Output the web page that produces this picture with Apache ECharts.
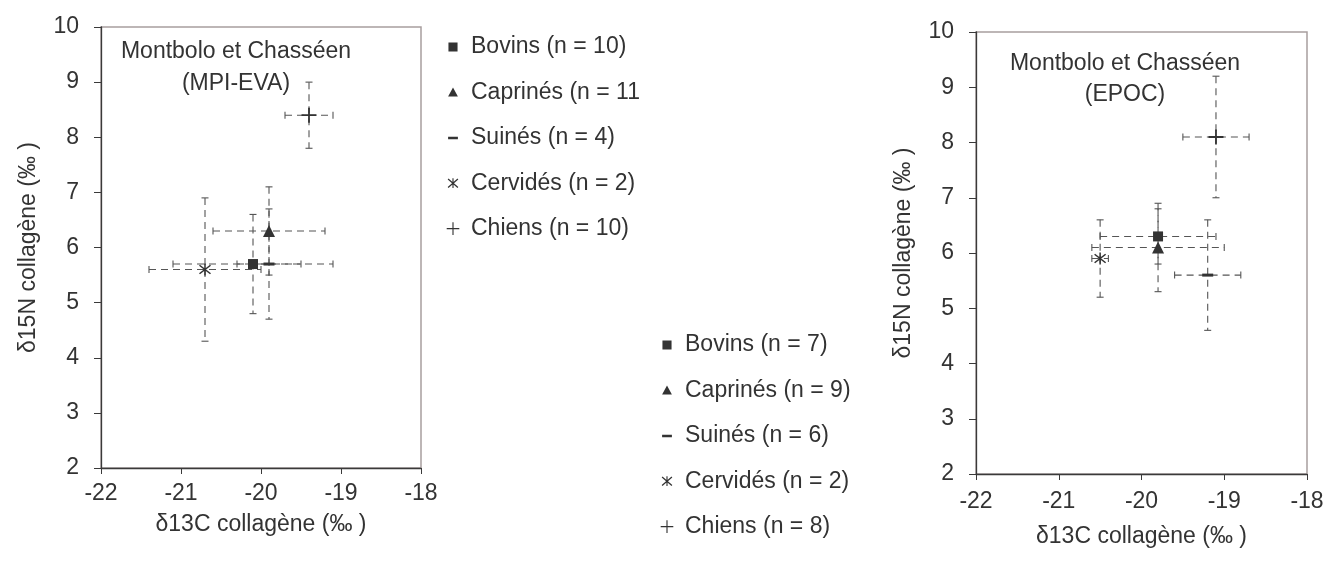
<!DOCTYPE html>
<html>
<head>
<meta charset="utf-8">
<script src="https://cdn.jsdelivr.net/npm/echarts@6/dist/echarts.min.js"></script>
<style>
html,body{margin:0;padding:0;background:#fff;}
#chart{width:1327px;height:568px;}
</style>
</head>
<body>
<div id="chart"></div>
<script>
// ---------- data ----------
const species = ['Bovins', 'Caprinés', 'Suinés', 'Cervidés', 'Chiens'];
const leftLabels = ['Bovins (n = 10)', 'Caprinés (n = 11', 'Suinés (n = 4)', 'Cervidés (n = 2)', 'Chiens (n = 10)'];
const rightLabels = ['Bovins (n = 7)', 'Caprinés (n = 9)', 'Suinés (n = 6)', 'Cervidés (n = 2)', 'Chiens (n = 8)'];

// Left panel: Montbolo et Chasséen (MPI-EVA)
const leftD13C = [-20.1, -19.9, -19.9, -20.7, -19.4];
const leftD15N = [5.7, 6.3, 5.7, 5.6, 8.4];
const leftSdC = [1.0, 0.7, 0.4, 0.7, 0.3];
const leftSdN = [0.9, 0.8, 1.0, 1.3, 0.6];

// Right panel: Montbolo et Chasséen (EPOC)
const rightD13C = [-19.8, -19.8, -19.2, -20.5, -19.1];
const rightD15N = [6.3, 6.1, 5.6, 5.9, 8.1];
const rightSdC = [0.7, 0.8, 0.4, 0.1, 0.4];
const rightSdN = [0.5, 0.8, 1.0, 0.7, 1.1];

const xTicks = [-22, -21, -20, -19, -18];
const yTicks = [2, 3, 4, 5, 6, 7, 8, 9, 10];

const leftTitle = 'Montbolo et Chasséen\n(MPI-EVA)';
const rightTitle = 'Montbolo et Chasséen\n(EPOC)';
const xName = 'δ13C collagène (‰ )';
const yName = 'δ15N collagène (‰ )';

// ---------- styling helpers ----------
const FONT = "'Liberation Sans', Arial, Helvetica, sans-serif";
const TXT = '#333333';
const MARK = '#333333';

function bar(x1, y1, x2, y2, t) {
  const dx = x2 - x1, dy = y2 - y1, L = Math.sqrt(dx * dx + dy * dy);
  const nx = -dy / L * t / 2, ny = dx / L * t / 2;
  const p = [[x1 + nx, y1 + ny], [x2 + nx, y2 + ny], [x2 - nx, y2 - ny], [x1 - nx, y1 - ny]];
  return 'M' + p.map(q => q[0].toFixed(2) + ' ' + q[1].toFixed(2)).join('L') + 'Z';
}
const FRAME = 'M0 0L0.01 0ZM20 20L20.01 20Z';

// chart symbols
const symPlus = 'path://' + bar(0, 10, 20, 10, 2.4) + bar(10, 0, 10, 20, 2.4);
const symAst = 'path://' + bar(10, 0, 10, 20, 2.2) + bar(2, 3, 18, 17, 2.2) + bar(18, 3, 2, 17, 2.2);
const symDash = 'path://M0 0H20V5H0Z';
const chartSymbols = ['rect', 'triangle', symDash, symAst, symPlus];
const chartSizes = [10, 12, [11, 3], 12, 15];

// legend icons (20x20 frame, drawn inside)
const legIcons = [
  'path://' + FRAME + 'M3.5 3.5H16.5V16.5H3.5Z',
  'path://' + FRAME + 'M10 3L17 16H3Z',
  'path://' + FRAME + 'M3 8.5H17V12H3Z',
  'path://' + FRAME + bar(3, 4, 17, 16, 1.8) + bar(17, 4, 3, 16, 1.8) + bar(10, 3, 10, 17, 1.6),
  'path://' + FRAME + bar(1, 10, 19, 10, 1.6) + bar(10, 1, 10, 19, 1.6)
];

function errRender(params, api) {
  const x = api.value(0), y = api.value(1), ex = api.value(2), ey = api.value(3);
  const l = api.coord([x - ex, y]), r = api.coord([x + ex, y]);
  const t = api.coord([x, y + ey]), b = api.coord([x, y - ey]);
  const c = 3.5;
  const dashed = { stroke: '#555', lineWidth: 1.1, lineDash: [7, 5], fill: null };
  const solid = { stroke: '#555', lineWidth: 1.1, fill: null };
  return {
    type: 'group',
    children: [
      { type: 'line', shape: { x1: l[0], y1: l[1], x2: r[0], y2: r[1] }, style: dashed },
      { type: 'line', shape: { x1: t[0], y1: t[1], x2: b[0], y2: b[1] }, style: dashed },
      { type: 'line', shape: { x1: l[0], y1: l[1] - c, x2: l[0], y2: l[1] + c }, style: solid },
      { type: 'line', shape: { x1: r[0], y1: r[1] - c, x2: r[0], y2: r[1] + c }, style: solid },
      { type: 'line', shape: { x1: t[0] - c, y1: t[1], x2: t[0] + c, y2: t[1] }, style: solid },
      { type: 'line', shape: { x1: b[0] - c, y1: b[1], x2: b[0] + c, y2: b[1] }, style: solid }
    ]
  };
}

function axisX(gridIndex, nameGap, margin) {
  return {
    gridIndex: gridIndex, type: 'value', min: xTicks[0], max: xTicks[xTicks.length - 1], interval: 1,
    name: xName, nameLocation: 'middle', nameGap: nameGap,
    nameTextStyle: { color: TXT, fontSize: 23, fontFamily: FONT },
    axisLine: { show: true, onZero: false, lineStyle: { color: '#3a3a3a', width: 1.3 } },
    axisTick: { show: true, inside: false, length: 6, lineStyle: { color: '#3a3a3a' } },
    axisLabel: { color: TXT, fontSize: 23, fontFamily: FONT, margin: margin },
    splitLine: { show: false }
  };
}
function axisY(gridIndex, nameGap) {
  return {
    gridIndex: gridIndex, type: 'value', min: yTicks[0], max: yTicks[yTicks.length - 1], interval: 1,
    name: yName, nameLocation: 'middle', nameGap: nameGap, nameRotate: 90,
    nameTextStyle: { color: TXT, fontSize: 23, fontFamily: FONT },
    axisLine: { show: true, onZero: false, lineStyle: { color: '#3a3a3a', width: 1.3 } },
    axisTick: { show: true, inside: false, length: 7, lineStyle: { color: '#3a3a3a' } },
    axisLabel: { color: TXT, fontSize: 23, fontFamily: FONT, margin: 22 },
    splitLine: { show: false }
  };
}

function buildSeries(idx, labels, xs, ys, sx, sy) {
  const out = [];
  out.push({
    type: 'custom', xAxisIndex: idx, yAxisIndex: idx, renderItem: errRender, silent: true, z: 1,
    encode: { x: 0, y: 1 },
    data: xs.map((v, i) => [v, ys[i], sx[i], sy[i]])
  });
  labels.forEach((name, i) => {
    out.push({
      type: 'scatter', name: name, xAxisIndex: idx, yAxisIndex: idx, z: 3,
      symbol: chartSymbols[i], symbolSize: chartSizes[i],
      itemStyle: { color: MARK, opacity: 1 },
      data: [[xs[i], ys[i]]]
    });
  });
  return out;
}

function buildLegend(labels, left, top) {
  return {
    orient: 'vertical', left: left, top: top, padding: 0,
    itemWidth: 26, itemHeight: 14, itemGap: 21.4, selectedMode: false,
    symbolKeepAspect: true,
    textStyle: { color: TXT, fontSize: 23, fontFamily: FONT, lineHeight: 24, padding: [0, 0, 0, 0] },
    data: labels.map((n, i) => ({ name: n, icon: legIcons[i], itemStyle: { color: MARK } }))
  };
}

const chart = echarts.init(document.getElementById('chart'), null, { renderer: 'canvas' });
chart.setOption({
  animation: false,
  backgroundColor: '#ffffff',
  title: [
    { text: leftTitle, left: 231, top: 31, textAlign: 'center',
      textStyle: { color: TXT, fontSize: 23, fontWeight: 'normal', fontFamily: FONT, lineHeight: 32, align: 'center' } },
    { text: rightTitle, left: 1120, top: 43, textAlign: 'center',
      textStyle: { color: TXT, fontSize: 23, fontWeight: 'normal', fontFamily: FONT, lineHeight: 31, align: 'center' } }
  ],
  grid: [
    { left: 101, top: 27, width: 320, height: 441, show: true, borderColor: '#a89e9e', borderWidth: 1.5, backgroundColor: 'transparent', containLabel: false },
    { left: 976, top: 32, width: 331, height: 442, show: true, borderColor: '#a89e9e', borderWidth: 1.5, backgroundColor: 'transparent', containLabel: false }
  ],
  xAxis: [axisX(0, 45, 14), axisX(1, 51, 16)],
  yAxis: [axisY(0, 61), axisY(1, 61)],
  legend: [buildLegend(leftLabels, 446, 35), buildLegend(rightLabels, 660, 333)],
  series: buildSeries(0, leftLabels, leftD13C, leftD15N, leftSdC, leftSdN)
    .concat(buildSeries(1, rightLabels, rightD13C, rightD15N, rightSdC, rightSdN))
});
</script>
</body>
</html>
